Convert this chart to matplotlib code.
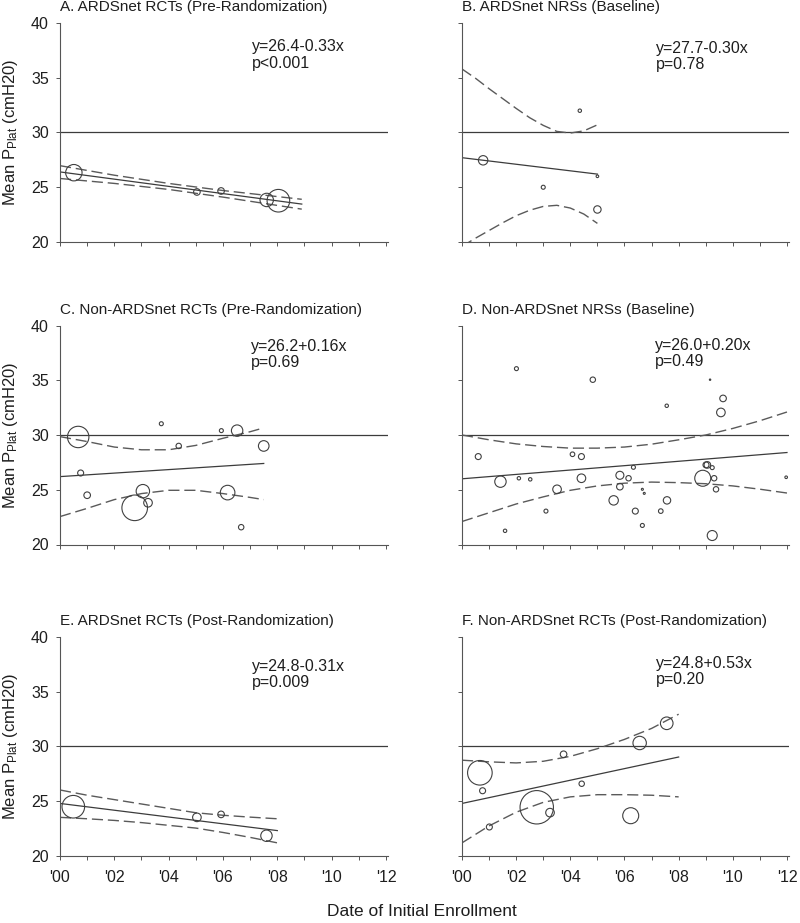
import matplotlib
matplotlib.use("Agg")
import matplotlib.pyplot as plt
import numpy as np

plt.rcParams['font.family'] = ['Liberation Sans', 'DejaVu Sans']
plt.rcParams['mathtext.default'] = 'regular'

LINE_C = '#3c3c3c'
DASH_C = '#5a5a5a'
CIRC_C = '#404040'
TEXT_C = '#1e1e1e'

titles = ["A. ARDSnet RCTs (Pre-Randomization)",
          "B. ARDSnet NRSs (Baseline)",
          "C. Non-ARDSnet RCTs (Pre-Randomization)",
          "D. Non-ARDSnet NRSs (Baseline)",
          "E. ARDSnet RCTs (Post-Randomization)",
          "F. Non-ARDSnet RCTs (Post-Randomization)"]

equations = ["y=26.4-0.33x\np<0.001", "y=27.7-0.30x\np=0.78",
             "y=26.2+0.16x\np=0.69", "y=26.0+0.20x\np=0.49",
             "y=24.8-0.31x\np=0.009", "y=24.8+0.53x\np=0.20"]

# regression: intercept, slope, last year of fit
intercepts = [26.4, 27.7, 26.2, 26.0, 24.8, 24.8]
slopes = [-0.33, -0.30, 0.16, 0.20, -0.31, 0.53]
fit_end = [8.9, 5.0, 7.5, 12.0, 8.0, 8.0]

# study points (years since 2000, mean Pplat, bubble radius)
a_x = [0.51, 5.04, 5.93, 7.61, 8.04]
a_y = [26.33, 24.57, 24.66, 23.84, 23.77]
a_r = [8.2, 3.3, 3.3, 6.7, 11.3]

b_x = [0.78, 3.0, 4.35, 5.0, 5.0]
b_y = [27.46, 25.0, 31.99, 26.0, 22.97]
b_r = [4.7, 2.0, 1.7, 1.3, 3.7]

c_x = [0.67, 0.76, 1.0, 2.75, 3.05, 3.24, 3.73, 4.37, 5.94, 6.52, 6.17, 6.67, 7.5]
c_y = [29.82, 26.53, 24.5, 23.35, 24.87, 23.81, 31.03, 29.0, 30.4, 30.4, 24.74, 21.58, 29.0]
c_r = [10.7, 3.0, 3.3, 12.8, 6.7, 4.3, 2.0, 2.7, 2.0, 5.7, 7.3, 2.7, 5.3]

d_x = [0.6, 1.42, 1.59, 2.01, 2.1, 2.52, 3.1, 3.51, 4.08, 4.41, 4.41, 4.83,
       5.6, 5.83, 5.83, 6.15, 6.33, 6.4, 6.66, 6.73, 6.66, 7.34, 7.56, 7.57,
       8.89, 9.01, 9.06, 9.24, 9.31, 9.38, 9.16, 9.24, 9.56, 9.64, 11.97]
d_y = [28.03, 25.74, 21.25, 36.06, 26.05, 25.95, 23.05, 25.04, 28.24, 28.03, 26.05, 35.05,
       24.03, 26.32, 25.28, 26.05, 27.05, 23.05, 25.04, 24.67, 21.74, 23.05, 32.67, 24.03,
       26.05, 27.27, 27.27, 27.02, 26.05, 25.04, 35.05, 20.82, 32.06, 33.34, 26.14]
d_r = [3.0, 5.7, 1.7, 2.0, 1.7, 1.7, 2.0, 4.3, 2.3, 3.0, 4.3, 2.7,
       4.7, 4.0, 3.3, 2.7, 2.0, 3.0, 1.0, 1.0, 2.0, 2.3, 1.7, 3.7,
       8.0, 3.0, 3.3, 2.0, 2.7, 2.7, 0.7, 5.0, 4.3, 3.3, 1.3]

e_x = [0.49, 5.04, 5.93, 7.6]
e_y = [24.5, 23.53, 23.8, 21.85]
e_r = [11.3, 4.3, 3.3, 5.7]

f_x = [0.66, 0.76, 1.01, 2.76, 3.25, 3.75, 4.42, 6.23, 6.56, 7.56]
f_y = [27.6, 25.96, 22.65, 24.45, 23.96, 29.29, 26.6, 23.68, 30.32, 32.12]
f_r = [12.3, 3.0, 3.0, 16.7, 4.3, 3.3, 2.7, 8.0, 6.7, 6.3]

# confidence bands
a_band_x = [0, 2, 4, 6, 8.9]
a_upper = [26.97, 26.1, 25.35, 24.7, 23.9]
a_lower = [25.8, 25.35, 24.8, 24.1, 23.0]

b_band_x = [0, 0.5, 1, 1.5, 2, 2.5, 3, 3.5, 4, 4.5, 5]
b_upper = [35.8, 34.95, 34.0, 33.1, 32.2, 31.35, 30.65, 30.1, 29.95, 30.15, 30.7]
b_lower = [19.6, 20.35, 21.05, 21.75, 22.4, 22.9, 23.25, 23.35, 23.1, 22.55, 21.7]

c_band_x = [0, 1, 2, 3, 4, 5, 6, 7, 7.5]
c_upper = [29.85, 29.4, 28.9, 28.65, 28.65, 29.05, 29.7, 30.3, 30.65]
c_lower = [22.55, 23.3, 24.1, 24.65, 24.95, 24.95, 24.65, 24.3, 24.1]

d_band_x = [0, 1, 2, 3, 4, 5, 6, 7, 8, 9, 10, 11, 12]
d_upper = [30.0, 29.56, 29.19, 28.95, 28.8, 28.8, 28.9, 29.16, 29.56, 30.0, 30.6, 31.3, 32.1]
d_lower = [22.1, 22.9, 23.7, 24.35, 24.95, 25.35, 25.6, 25.7, 25.65, 25.55, 25.35, 25.05, 24.7]

e_band_x = [0, 1, 2, 3, 4, 5, 6, 7, 8]
e_upper = [26.03, 25.55, 25.15, 24.75, 24.35, 23.95, 23.72, 23.55, 23.4]
e_lower = [23.53, 23.4, 23.25, 23.05, 22.8, 22.55, 22.15, 21.7, 21.2]

f_band_x = [0, 1, 2, 3, 4, 5, 6, 7, 8]
f_upper = [28.75, 28.6, 28.5, 28.65, 29.1, 29.8, 30.65, 31.65, 32.95]
f_lower = [21.2, 22.75, 24.0, 24.9, 25.4, 25.6, 25.6, 25.55, 25.4]

xs_all = [a_x, b_x, c_x, d_x, e_x, f_x]
ys_all = [a_y, b_y, c_y, d_y, e_y, f_y]
rs_all = [a_r, b_r, c_r, d_r, e_r, f_r]
band_x = [a_band_x, b_band_x, c_band_x, d_band_x, e_band_x, f_band_x]
uppers = [a_upper, b_upper, c_upper, d_upper, e_upper, f_upper]
lowers = [a_lower, b_lower, c_lower, d_lower, e_lower, f_lower]

year_ticks = list(range(13))
year_labels = ["'%02d" % y if y % 2 == 0 else '' for y in year_ticks]

W, H = 800, 923
# axes boxes in pixels: left, top(y=40), width, height
col_left = [60, 462]
col_width = [327.6, 326.6]
row_top = [23, 325.5, 637]
ax_h = 219

# equation text position (x, top y) per panel
eq_pos = [(7.08, 38.5), (7.16, 38.35), (7.03, 38.8), (7.13, 38.9), (7.08, 38.0), (7.16, 38.3)]

fig = plt.figure(figsize=(W / 100, H / 100), dpi=100)

for i in range(6):
    row, col = divmod(i, 2)
    left = col_left[col] / W
    bottom = 1 - (row_top[row] + ax_h) / H
    ax = fig.add_axes([left, bottom, col_width[col] / W, ax_h / H])

    ax.axhline(30, color=LINE_C, lw=0.9, zorder=1)

    fx = np.array([0, fit_end[i]])
    ax.plot(fx, intercepts[i] + slopes[i] * fx, color=LINE_C, lw=0.9, zorder=2)
    ax.plot(band_x[i], uppers[i], color=DASH_C, lw=1.0, dashes=(8, 3.5), zorder=2)
    ax.plot(band_x[i], lowers[i], color=DASH_C, lw=1.0, dashes=(8, 3.5), zorder=2)

    sizes = [(2 * r * 0.72) ** 2 for r in rs_all[i]]
    ax.scatter(xs_all[i], ys_all[i], s=sizes, facecolors='none',
               edgecolors=CIRC_C, linewidths=0.8, zorder=3)

    ax.set_xlim(0, 12.06)
    ax.set_ylim(20, 40)
    for s in ['top', 'right']:
        ax.spines[s].set_visible(False)
    for s in ['left', 'bottom']:
        ax.spines[s].set_color('#555555')
        ax.spines[s].set_linewidth(0.8)

    ax.set_xticks(year_ticks)
    ax.set_yticks([20, 25, 30, 35, 40])
    ax.tick_params(direction='out', length=3, width=0.7, color='#555555',
                   labelsize=11.5, labelcolor=TEXT_C)
    ax.tick_params(axis='y', pad=5)
    ax.tick_params(axis='x', pad=7)
    if row == 2:
        ax.set_xticklabels(year_labels)
    else:
        ax.tick_params(axis='x', labelbottom=False)
    if col == 1:
        ax.tick_params(axis='y', labelleft=False)
    else:
        ax.set_ylabel('Mean P$_{Plat}$ (cmH20)', fontsize=12, color=TEXT_C)
        ax.yaxis.set_label_coords(-0.122, 0.5)

    ax.set_title(titles[i], loc='left', fontsize=11, color=TEXT_C, pad=8.5)
    ax.text(eq_pos[i][0], eq_pos[i][1], equations[i], fontsize=11.5,
            color=TEXT_C, va='top', ha='left', linespacing=1.1)

fig.text(422 / W, 1 - 912 / H, 'Date of Initial Enrollment', ha='center',
         va='center', fontsize=12.5, color=TEXT_C)

fig.savefig('out.png', dpi=100)
